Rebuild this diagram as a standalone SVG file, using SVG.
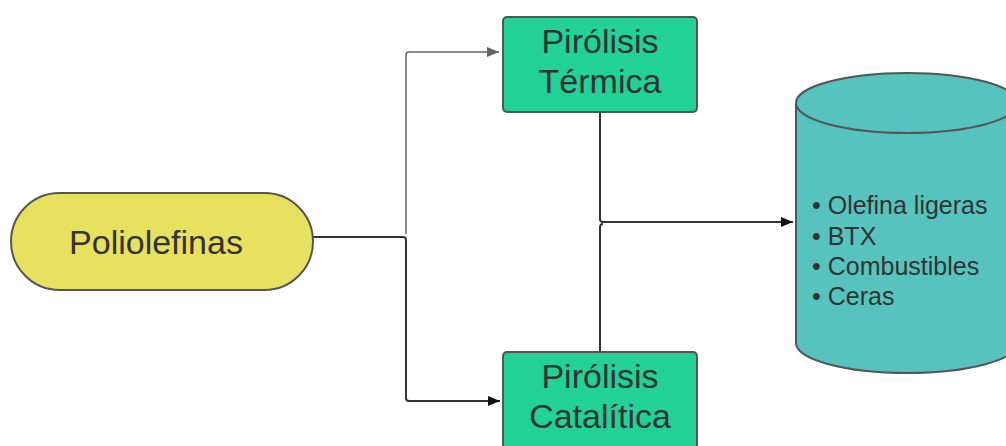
<svg xmlns="http://www.w3.org/2000/svg" width="1006" height="446" viewBox="0 0 1006 446">
<style>
.t{font-family:"Liberation Sans",Arial,sans-serif;fill:#333;}
.c{fill:none;stroke:#333;stroke-width:2;}
.g{fill:none;stroke:#666;stroke-width:1.5;}
.box{fill:#21D196;stroke:#555;stroke-width:2;}
</style>
<defs>
<marker id="ab" viewBox="0 0 12 10" refX="12" refY="5" markerWidth="12" markerHeight="10" markerUnits="userSpaceOnUse" orient="auto"><path d="M0,0 L12,5 L0,10 Z" fill="#111"/></marker>
<marker id="ag" viewBox="0 0 12 10" refX="12" refY="5" markerWidth="12" markerHeight="10" markerUnits="userSpaceOnUse" orient="auto"><path d="M0,0 L12,5 L0,10 Z" fill="#666"/></marker>
</defs>
<g id="connectors">
<path class="c" d="M313,237 H403 Q406,237 406,240 V398 Q406,401 409,401 H500" marker-end="url(#ab)"/>
<path class="g" d="M406,234 V55 Q406,52 409,52 H499" marker-end="url(#ag)"/>
<path class="c" d="M600,112 V219 Q600,222 603,222 H793" marker-end="url(#ab)"/>
<path class="c" d="M600,352 V227 Q600,224 603,224"/>
</g>
<g id="poliolefinas">
<rect x="11" y="193" width="302" height="97" rx="48.5" fill="#E8E05F" stroke="#555" stroke-width="2"/>
<text class="t" x="156" y="254" font-size="34" text-anchor="middle">Poliolefinas</text>
</g>
<g id="termica">
<rect class="box" x="503" y="17" width="194" height="95" rx="4"/>
<text class="t" x="600" y="53" font-size="34" text-anchor="middle">Pirólisis</text>
<text class="t" x="600" y="93" font-size="34" text-anchor="middle">Térmica</text>
</g>
<g id="catalitica">
<rect class="box" x="503" y="352" width="194" height="100" rx="4"/>
<text class="t" x="600" y="388" font-size="34" text-anchor="middle">Pirólisis</text>
<text class="t" x="600" y="428" font-size="34" text-anchor="middle">Catalítica</text>
</g>
<g id="productos">
<path d="M796,103 A111,30 0 0 1 1018,103 V343 A111,30 0 0 1 796,343 Z" fill="#57C3BE" stroke="#555" stroke-width="2"/>
<path d="M796,103 A111,30 0 0 0 1018,103" fill="none" stroke="#555" stroke-width="2"/>
<text class="t" font-size="25">
<tspan x="812" y="214">• Olefina ligeras</tspan>
<tspan x="812" y="245">• BTX</tspan>
<tspan x="812" y="275">• Combustibles</tspan>
<tspan x="812" y="305">• Ceras</tspan>
</text>
</g>
</svg>
